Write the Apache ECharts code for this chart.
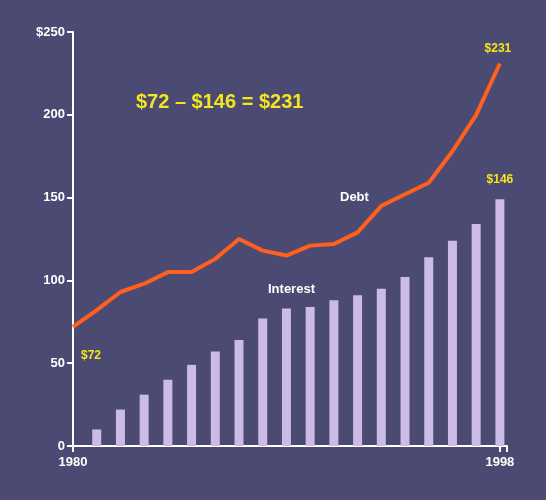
<!DOCTYPE html>
<html><head><meta charset="utf-8">
<script src="https://cdn.jsdelivr.net/npm/echarts@6/dist/echarts.min.js"></script>
<style>html,body{margin:0;padding:0;background:#4b4a72}#c{width:546px;height:500px}</style>
</head><body><div id="c"></div>
<script>
const debtYears=[1980,1981,1982,1983,1984,1985,1986,1987,1988,1989,1990,1991,1992,1993,1994,1995,1996,1997,1998];
const debtValues=[72,82,93,98,105,105,113,125,118,115,121,122,129,145,152,159,178,200,231];
const interestYears=[1981,1982,1983,1984,1985,1986,1987,1988,1989,1990,1991,1992,1993,1994,1995,1996,1997,1998];
const interestValues=[10,22,31,40,49,57,64,77,83,84,88,91,95,102,114,124,134,149];
const yTickLabels={0:'0',50:'50',100:'100',150:'150',200:'200',250:'$250'};
const chart=echarts.init(document.getElementById('c'));
const font='Liberation Sans';
chart.setOption({
 backgroundColor:'#4b4a72',
 grid:{left:73,right:39,top:32,bottom:54},
 xAxis:{type:'value',min:1980,max:1998.3,interval:18,
  axisLine:{lineStyle:{color:'#fff',width:2}},
  axisTick:{show:true,length:6,lineStyle:{color:'#fff',width:2}},
  splitLine:{show:false},
  axisLabel:{color:'#fff',fontWeight:'bold',fontFamily:font,fontSize:13,margin:10,
   formatter:v=>(v===1980||v===1998)?String(v):''}},
 yAxis:{type:'value',min:0,max:250,interval:50,
  axisLine:{show:true,lineStyle:{color:'#fff',width:2}},
  axisTick:{show:true,length:6,lineStyle:{color:'#fff',width:2}},
  splitLine:{show:false},
  axisLabel:{color:'#fff',fontWeight:'bold',fontFamily:font,fontSize:13,formatter:v=>yTickLabels[v]}},
 series:[
  {type:'bar',data:interestYears.map((y,i)=>[y,interestValues[i]]),barWidth:9,
   itemStyle:{color:'#cbbbe6'},
   label:{show:true,position:'top',distance:14,color:'#f4e61c',fontWeight:'bold',fontFamily:font,fontSize:12,
    formatter:p=>p.dataIndex===interestValues.length-1?'$146':''}},
  {type:'line',data:debtYears.map((y,i)=>[y,debtValues[i]]),symbol:'circle',symbolSize:0.1,showSymbol:true,
   itemStyle:{color:'#ff5f1f'},
   lineStyle:{color:'#ff5f1f',width:4},
   label:{show:true,fontWeight:'bold',fontFamily:font,fontSize:12,color:'#f4e61c',
    formatter:p=>p.dataIndex===0?'$72':(p.dataIndex===debtValues.length-1?'$231':''),
    position:'top'},
   labelLayout:p=>p.dataIndex===0?{dx:18,dy:40}:{dx:-2,dy:-4}}
 ],
 graphic:[
  {type:'text',left:136,top:92,style:{text:'$72 – $146 = $231',fill:'#f4e61c',font:'bold 20px "Liberation Sans"'}},
  {type:'text',left:340,top:191,style:{text:'Debt',fill:'#fff',font:'bold 13px "Liberation Sans"'}},
  {type:'text',left:268,top:283,style:{text:'Interest',fill:'#fff',font:'bold 13px "Liberation Sans"'}}
 ]
});
</script></body></html>
